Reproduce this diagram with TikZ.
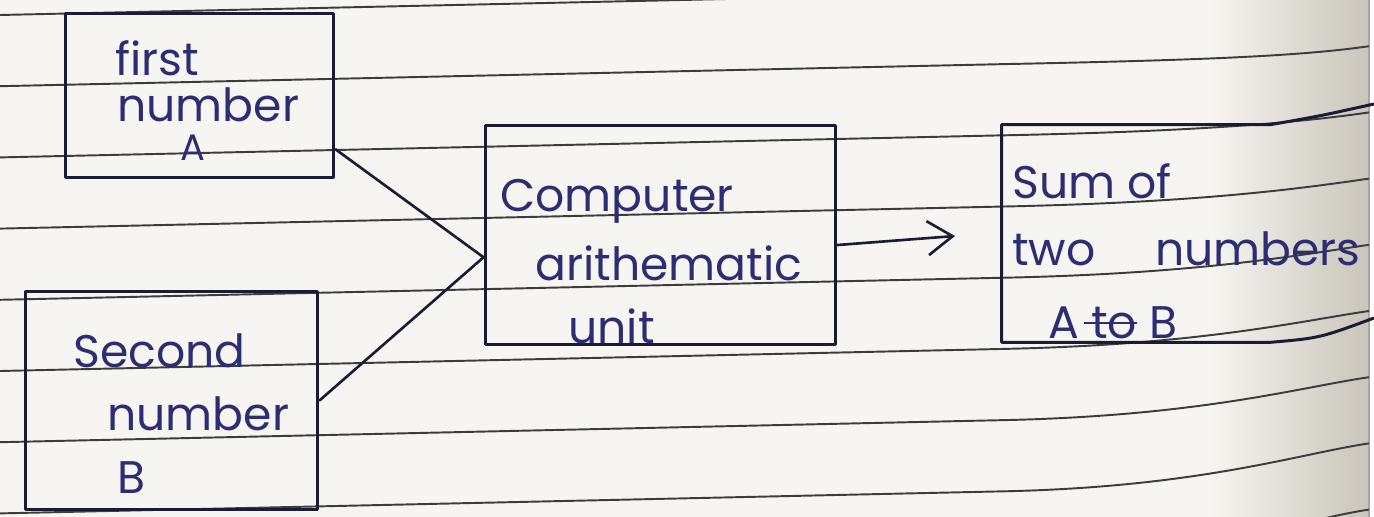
\documentclass[tikz,border=0pt]{standalone}
\usepackage{fontspec}
\setmainfont{Poppins}
\usetikzlibrary{arrows.meta,calc}

\definecolor{paper}{HTML}{F6F5F1}
\definecolor{rulegray}{HTML}{3C3C3C}
\definecolor{ink}{HTML}{1B1B36}
\definecolor{pen}{HTML}{2C2D74}
\definecolor{curl}{HTML}{C9C5BA}

% struck-through word
\newcommand\crossout[1]{\setbox0\hbox{#1}\rlap{\hspace{-0.15em}\raisebox{0.3em}{\rule{\dimexpr\wd0+0.15em\relax}{1.3pt}}}\box0\relax}

\begin{document}
\begin{tikzpicture}[x=0.02cm,y=-0.02cm,
  frame/.style={draw=ink,line width=1.7pt,line join=round},
  box/.style={frame,rectangle,inner sep=0pt},
  wire/.style={draw=ink,line width=1.5pt,line cap=round},
  ruling/.style={draw=rulegray,line width=1.1pt},
  words/.style={text=pen,font=\fontsize{26}{30}\selectfont,anchor=base west,inner sep=0pt},
  smallwords/.style={words,font=\fontsize{21}{24}\selectfont}]

\useasboundingbox (0,0) rectangle (1374,517);

% notebook page
\fill[paper] (0,0) rectangle (1374,517);
\shade[left color=paper,right color=curl] (1210,0) rectangle (1369,517);
\fill[white] (1369,0) rectangle (1374,517);
\draw[gray!70,line width=0.6pt] (1369,0) -- (1369,517);

% ruled lines, bending up where the page curls
\begin{scope}
  \clip (0,0) rectangle (1369,517);
  \foreach \i in {1,...,9}{
    \pgfmathsetmacro\ly{15+71.2*(\i-1)}
    \pgfmathsetmacro\le{35+5*(\i-1)}
    \draw[ruling] (0,\ly) -- (1000,{\ly-22})
      .. controls (1200,{\ly-26}) and (1300,{\ly-\le+10}) .. (1369,{\ly-\le});
  }
\end{scope}

% boxes
\node[box,minimum width=5.38cm,minimum height=3.30cm] (A) at (199.5,95.5) {};
\node[box,minimum width=5.86cm,minimum height=4.38cm] (B) at (171.5,400.5) {};
\node[box,minimum width=7.02cm,minimum height=4.40cm] (C) at (660.5,235) {};
\node[rectangle,inner sep=0pt,minimum width=5.36cm,minimum height=4.34cm] (S) at (1136,233.5) {};
\coordinate (Stop) at (1374,104);
\coordinate (Sbot) at (1374,318);
\draw[frame] (Stop) .. controls (1320,116) .. (S.north east) -- (S.north west)
  -- (S.south west) -- (S.south east) .. controls (1320,338) .. (Sbot);

% texts
\node[words] (a1) at (115,76) {first};
\node[words] (a2) at (117,122) {number};
\node[smallwords] (a3) at (180,161) {A};

\node[words] (b1) at (73,367) {Second};
\node[words] (b2) at (107,430) {number};
\node[words] (b3) at (117,493) {B};

\node[words] (c1) at (500,212) {Computer};
\node[words] (c2) at (535,280) {arithematic};
\node[words] (c3) at (568,343) {unit};

\node[words] (s1) at (1012,198) {Sum of};
\node[words] (s2) at (1012,265) {two\hspace{1.3em}numbers};
\node[words] (s3) at (1048,338) {A \crossout{to} B};

% connectors
\coordinate (Cin) at ($(C.north west)!0.6!(C.south west)$);
\coordinate (Cout) at ($(C.north east)!0.545!(C.south east)$);
\coordinate (tip) at (955,236);
\draw[wire] ($(A.north east)!0.82!(A.south east)$) -- (Cin);
\draw[wire] (B.east) -- (Cin);
\draw[wire,-{Straight Barb[length=0.5cm,width=0.68cm]}] (Cout) -- (tip);

\end{tikzpicture}
\end{document}
